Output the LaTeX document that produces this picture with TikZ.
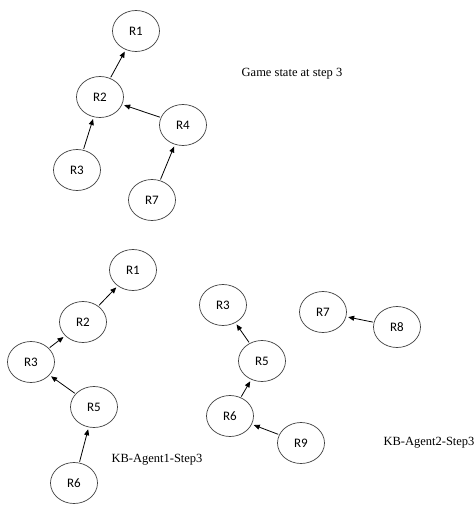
\documentclass[tikz,border=0pt]{standalone}
\usepackage{fontspec}
\setmainfont{Liberation Serif}
\newfontfamily\nodefont{Carlito}
\usetikzlibrary{shapes.geometric,arrows.meta}
\tikzset{
  rnode/.style={ellipse,draw=black!75,line width=0.7pt,minimum width=47pt,minimum height=41pt,inner sep=0pt,font=\nodefont\fontsize{13}{15}\selectfont},
  link/.style={draw=black,line width=0.8pt,-{Triangle[length=6pt,width=5pt]},shorten <=1pt,shorten >=2pt},
  caption/.style={font=\fontsize{12.5}{14}\selectfont,inner sep=0pt}
}
\begin{document}
\begin{tikzpicture}[x=1pt,y=-1pt]
\useasboundingbox (0,0) rectangle (475,505);
% Game state
\node[rnode] (g1) at (136,31) {R1};
\node[rnode] (g2) at (100,97) {R2};
\node[rnode] (g4) at (183,125) {R4};
\node[rnode] (g3) at (77,170) {R3};
\node[rnode] (g7) at (152,200) {R7};
\draw[link] (g2) -- (g1);
\draw[link] (g4) -- (g2);
\draw[link] (g3) -- (g2);
\draw[link] (g7) -- (g4);
\node[caption] (tg) at (292,74) {Game state at step 3};
% Agent 1
\node[rnode] (a1) at (133,270) {R1};
\node[rnode] (a2) at (83,322) {R2};
\node[rnode] (a3) at (31,362) {R3};
\node[rnode] (a5) at (94,407) {R5};
\node[rnode] (a6) at (74,483) {R6};
\draw[link] (a2) -- (a1);
\draw[link] (a3) -- (a2);
\draw[link] (a5) -- (a3);
\draw[link] (a6) -- (a5);
\node[caption] (ta) at (157,460) {KB-Agent1-Step3};
% Agent 2
\node[rnode] (b3) at (223,305) {R3};
\node[rnode] (b5) at (262,361) {R5};
\node[rnode] (b6) at (230,416) {R6};
\node[rnode] (b9) at (301,443) {R9};
\node[rnode] (b7) at (323,312) {R7};
\node[rnode] (b8) at (397,327) {R8};
\draw[link] (b5) -- (b3);
\draw[link] (b6) -- (b5);
\draw[link] (b9) -- (b6);
\draw[link] (b8) -- (b7);
\node[caption] (tb) at (429,443) {KB-Agent2-Step3};
\end{tikzpicture}
\end{document}
